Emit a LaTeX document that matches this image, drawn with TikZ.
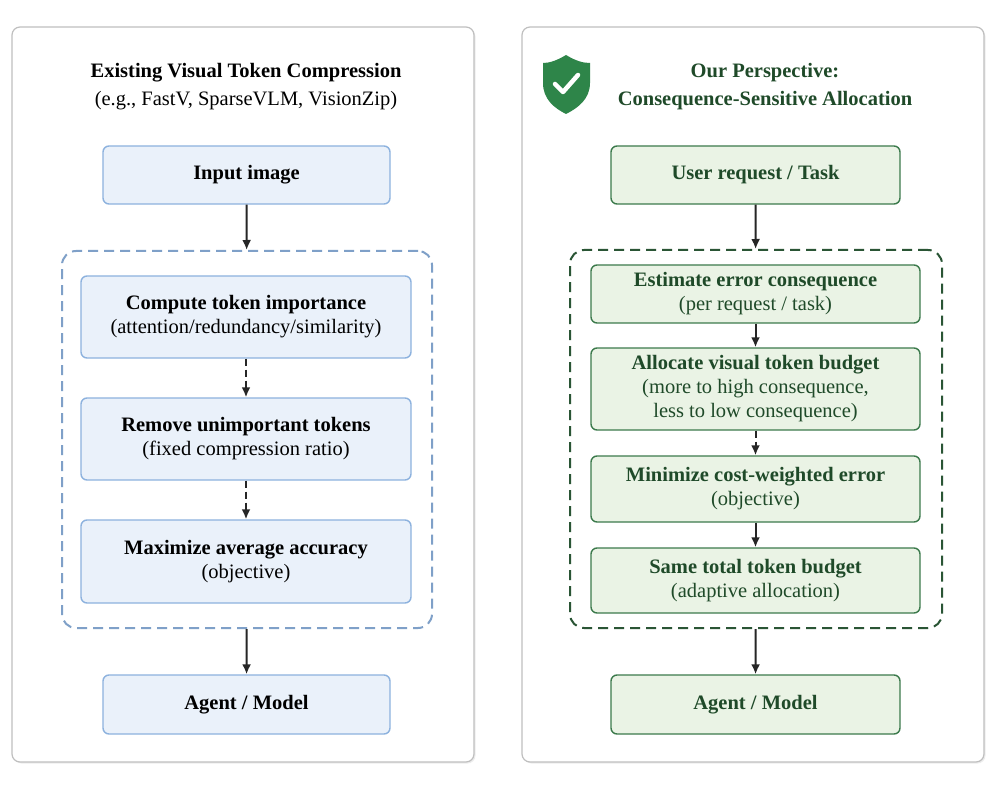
\documentclass[tikz,border=0pt]{standalone}
\usepackage{fontspec}
\setmainfont{Liberation Serif}
\usetikzlibrary{shadows,arrows.meta}
\definecolor{bluefill}{HTML}{EAF1FA}
\definecolor{blueline}{HTML}{8DB2DE}
\definecolor{greenfill}{HTML}{EAF3E5}
\definecolor{greenline}{HTML}{3C7A4C}
\definecolor{greentext}{HTML}{1F4A29}
\definecolor{shieldgreen}{HTML}{2E8549}
\begin{document}
\begin{tikzpicture}[
    x=1pt, y=-1pt,
    % GLOBAL CFG
    font=\fontsize{20.5}{24}\selectfont,
    >={Latex[length=10pt,width=9pt]},
    % Styles
    panel/.style={% For the two big panels
        rectangle,
        rounded corners=8pt,
        draw=black!25,
        fill=white,
        line width=1.2pt,
        drop shadow={opacity=0.15, shadow xshift=1.5pt, shadow yshift=-1.5pt},
        },
    bbox/.style={% blue step box
        rectangle,
        rounded corners=6pt,
        draw=blueline,
        fill=bluefill,
        line width=1.4pt,
        align=center,
        inner sep=0pt,
        },
    gbox/.style={% green step box
        rectangle,
        rounded corners=6pt,
        draw=greenline,
        fill=greenfill,
        line width=1.4pt,
        align=center,
        text=greentext,
        inner sep=0pt,
        },
    group/.style={% dashed container
        rectangle,
        rounded corners=14pt,
        dash pattern=on 10pt off 6pt,
        line width=2pt,
        },
    link/.style={% Arrows
        ->,
        line width=2pt,
        black!85,
        },
    dlink/.style={% dashed arrows
        link,
        dash pattern=on 7pt off 4pt,
        },
    ]

% Panels
    \node [panel, minimum width=462, minimum height=735] (pl) at (243,394.5) {};
    \node [panel, minimum width=462, minimum height=735] (pr) at (753,394.5) {};

% Left side
    \node [align=center, font=\fontsize{20.5}{28}\selectfont] (tl) at (246,87) {\textbf{Existing Visual Token Compression}\\(e.g., FastV, SparseVLM, VisionZip)};
    \node [bbox, minimum width=287, minimum height=58] (img) at (246.5,175) {\textbf{Input image}};
    \node [group, draw=blueline!90!black, minimum width=370, minimum height=377] (gl) at (247,439.5) {};
    \node [bbox, minimum width=330, minimum height=82] (cti) at (246,317) {\textbf{Compute token importance}\\(attention/redundancy/similarity)};
    \node [bbox, minimum width=330, minimum height=82] (rut) at (246,439) {\textbf{Remove unimportant tokens}\\(fixed compression ratio)};
    \node [bbox, minimum width=330, minimum height=83] (maa) at (246,561.5) {\textbf{Maximize average accuracy}\\(objective)};
    \node [bbox, minimum width=287, minimum height=59] (agl) at (246.5,704.5) {\textbf{Agent / Model}};

    \draw [link] (img) -- (gl);
    \draw [dlink] (cti) -- (rut);
    \draw [dlink] (rut) -- (maa);
    \draw [link] (gl) -- (agl);

% Right side
    % shield
    \fill [shieldgreen] (566,55) .. controls (556,61) and (549,63) .. (543,63) -- (543,83)
        .. controls (543,99) and (554,108) .. (566,114) .. controls (578,108) and (590,99) .. (590,83)
        -- (590,63) .. controls (583,63) and (576,61) .. (566,55) -- cycle;
    \draw [white, line width=4.5pt, line cap=round, line join=round] (555,84) -- (563,92) -- (578,75);
    \node [align=center, text=greentext, font=\fontsize{20.5}{28}\selectfont\bfseries] (tr) at (765,87) {Our Perspective:\\Consequence-Sensitive Allocation};
    \node [gbox, minimum width=289, minimum height=58] (usr) at (755.5,175) {\textbf{User request / Task}};
    \node [group, draw=greenline!70!black, minimum width=372, minimum height=378] (gr) at (756,439) {};
    \node [gbox, minimum width=329, minimum height=58] (est) at (755.5,294) {\textbf{Estimate error consequence}\\(per request / task)};
    \node [gbox, minimum width=329, minimum height=82] (alo) at (755.5,389) {\textbf{Allocate visual token budget}\\(more to high consequence,\\less to low consequence)};
    \node [gbox, minimum width=329, minimum height=66] (mce) at (755.5,489) {\textbf{Minimize cost-weighted error}\\(objective)};
    \node [gbox, minimum width=329, minimum height=65] (stb) at (755.5,580.5) {\textbf{Same total token budget}\\(adaptive allocation)};
    \node [gbox, minimum width=289, minimum height=59] (agr) at (755.5,704.5) {\textbf{Agent / Model}};

    \draw [link] (usr) -- (gr);
    \draw [link] (est) -- (alo);
    \draw [dlink] (alo) -- (mce);
    \draw [link] (mce) -- (stb);
    \draw [link] (gr) -- (agr);

    \useasboundingbox (0,0) rectangle (996,786);
\end{tikzpicture}
\end{document}
